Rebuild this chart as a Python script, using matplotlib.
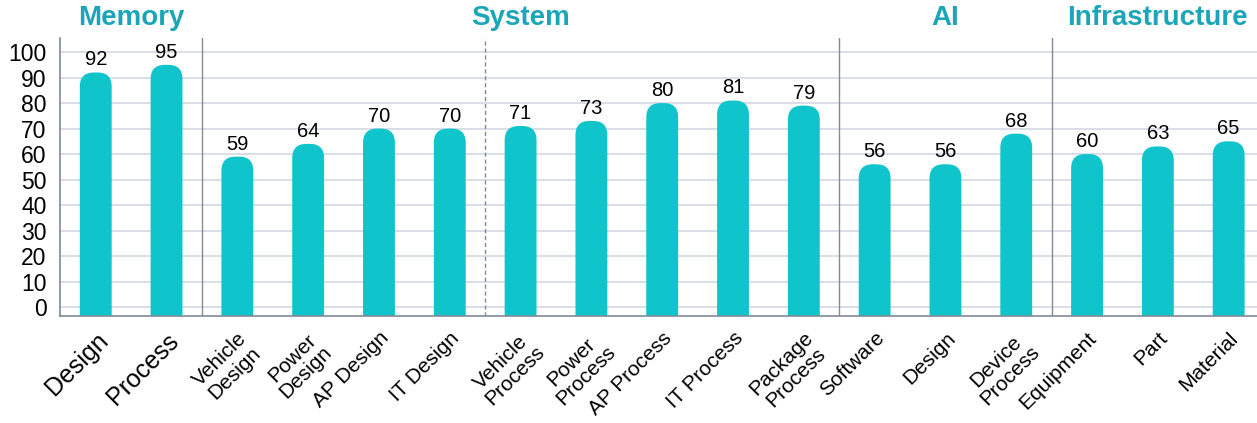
import matplotlib
matplotlib.use("Agg")
import matplotlib.pyplot as plt
import matplotlib.transforms as mtransforms
from matplotlib.patches import FancyBboxPatch

plt.rcParams['font.family'] = ['Liberation Sans', 'DejaVu Sans']

labels = ["Design", "Process", "Vehicle\nDesign", "Power\nDesign", "AP Design", "IT Design",
          "Vehicle\nProcess", "Power\nProcess", "AP Process", "IT Process", "Package\nProcess",
          "Software", "Design", "Device\nProcess", "Equipment", "Part", "Material"]
values = [92, 95, 59, 64, 70, 70, 71, 73, 80, 81, 79, 56, 56, 68, 60, 63, 65]
groups = ["Memory", "System", "AI", "Infrastructure"]
group_sizes = [2, 9, 3, 3]
yticks = list(range(0, 101, 10))

bar_color = "#0FC4CB"
head_color = "#1AA6B8"
grid_color = "#D3D8E2"
line_color = "#808A98"

fig = plt.figure(figsize=(12.57, 4.23), dpi=100)
ax = fig.add_axes([0.048, 0.253, 0.952, 0.657])

ymin, ymax = -3.5, 105.5
xmin, xmax = -0.5, 16.4
ax.set_xlim(xmin, xmax)
ax.set_ylim(ymin, ymax)

# rounded-top bars: box extends below the axis so bottom corners are clipped away
w = 0.45
r = 0.2
px_per_x = 0.952 * 1257 / (xmax - xmin)
px_per_y = 0.657 * 423 / (ymax - ymin)
aspect = px_per_x / px_per_y
for i, v in enumerate(values):
    p = FancyBboxPatch((i - w / 2, -20), w, v + 20,
                       boxstyle="round,pad=0,rounding_size=%f" % r,
                       mutation_aspect=aspect, fc=bar_color, ec="none", zorder=3)
    ax.add_patch(p)
    ax.text(i, v + 1.2, str(v), ha="center", va="bottom", fontsize=14.5, zorder=4)

ax.set_yticks(yticks)
ax.set_yticklabels([str(t) for t in yticks], fontsize=16.5)
ax.yaxis.grid(True, color=grid_color, lw=1.2, zorder=0)
ax.tick_params(axis="both", length=0)
ax.tick_params(axis="y", pad=10)
ax.tick_params(axis="x", pad=9)

ax.set_xticks(range(len(labels)))
ax.set_xticklabels(labels, rotation=45, ha="right", rotation_mode="anchor",
                   multialignment="center", linespacing=1.05)
for k, t in enumerate(ax.get_xticklabels()):
    t.set_fontsize(18 if k < 2 else 15)

for s in ["top", "right"]:
    ax.spines[s].set_visible(False)
for s in ["left", "bottom"]:
    ax.spines[s].set_color(line_color)
    ax.spines[s].set_linewidth(1.2)
    ax.spines[s].set_zorder(5)

# group separators and headers
trans = mtransforms.blended_transform_factory(ax.transData, ax.transAxes)
start = 0
for g, n in zip(groups, group_sizes):
    center = start + (n - 1) / 2
    ax.text(center, 1.025, g, transform=trans, ha="center", va="bottom",
            fontsize=20, fontweight="bold", color=head_color)
    if start > 0:
        ax.axvline(start - 0.5, color=line_color, lw=1, zorder=2)
    start += n
ax.axvline(5.5, color=line_color, lw=1, ls=(0, (3, 2)), zorder=2)

fig.savefig("out.png", dpi=100)
